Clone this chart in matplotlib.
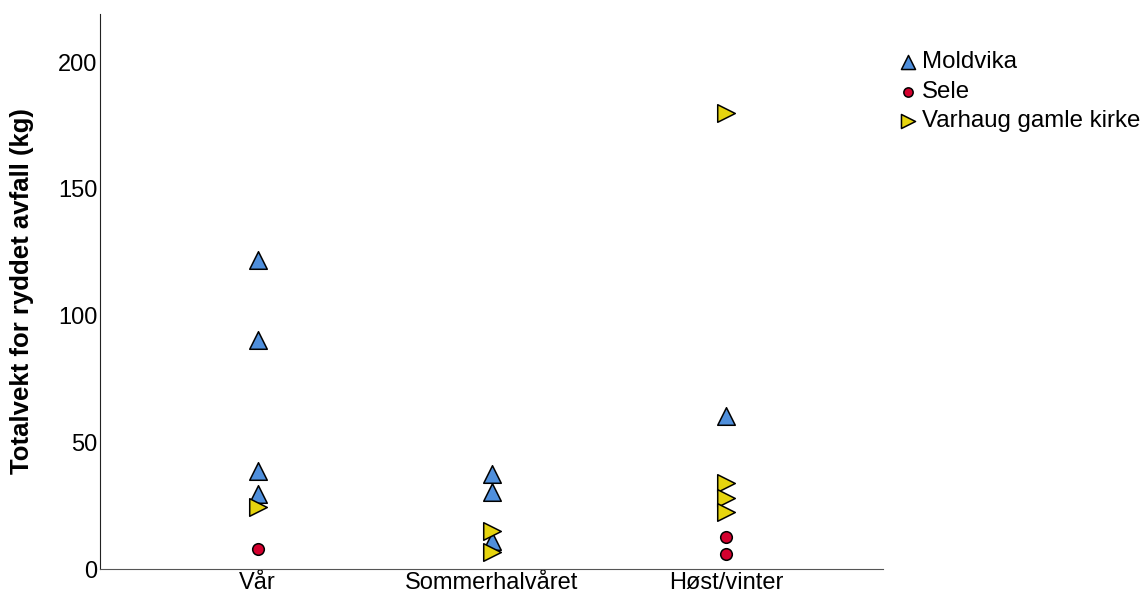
import numpy as np
import matplotlib.pyplot as plt

plt.rcParams['font.family'] = ['Liberation Sans', 'DejaVu Sans']

seasons = ['Vår', 'Sommerhalvåret', 'Høst/vinter']

# Moldvika
moldvika_x = [0, 0, 0, 0, 1, 1, 1, 2]
moldvika_y = [122.0, 90.3, 38.5, 29.5, 37.3, 30.5, 11.0, 60.5]

# Sele
sele_x = [0, 2, 2]
sele_y = [7.9, 12.6, 5.9]

# Varhaug gamle kirke
varhaug_x = [0, 1, 1, 2, 2, 2, 2]
varhaug_y = [24.5, 15.0, 6.8, 180.0, 34.0, 28.0, 22.5]

fig = plt.figure(figsize=(11.42, 5.97), dpi=100)
ax = fig.add_axes([0.0876, 0.0469, 0.6854, 0.9296])

ax.scatter(moldvika_x, moldvika_y, marker='^', s=160, c='#4f8fdc',
           edgecolors='black', linewidths=1.1, label='Moldvika', zorder=3)
ax.scatter(sele_x, sele_y, marker='o', s=70, c='#d4002e',
           edgecolors='black', linewidths=1.1, label='Sele', zorder=3)
ax.scatter(varhaug_x, varhaug_y, marker='>', s=160, c='#e6d40e',
           edgecolors='black', linewidths=1.1, label='Varhaug gamle kirke', zorder=4)

ax.set_xlim(-0.672, 2.668)
ax.set_ylim(0, 219)
ax.set_xticks(range(len(seasons)))
ax.set_xticklabels(seasons)
ax.set_yticks([0, 50, 100, 150, 200])
ax.tick_params(length=0, labelsize=17)
ax.tick_params(axis='y', pad=2)
ax.tick_params(axis='x', pad=2)

for side in ['top', 'right']:
    ax.spines[side].set_visible(False)
ax.spines['left'].set_color('#222222')
ax.spines['bottom'].set_color('#555555')

ax.set_ylabel('Totalvekt for ryddet avfall (kg)', fontsize=18.5,
              fontweight='bold', labelpad=17)

ax.legend(loc='upper left', bbox_to_anchor=(1.004, 0.95), frameon=False,
          fontsize=17.3, handletextpad=0.1, labelspacing=0.31,
          borderaxespad=0, handlelength=1.0, markerscale=0.8)

fig.savefig('out.png', dpi=100)
